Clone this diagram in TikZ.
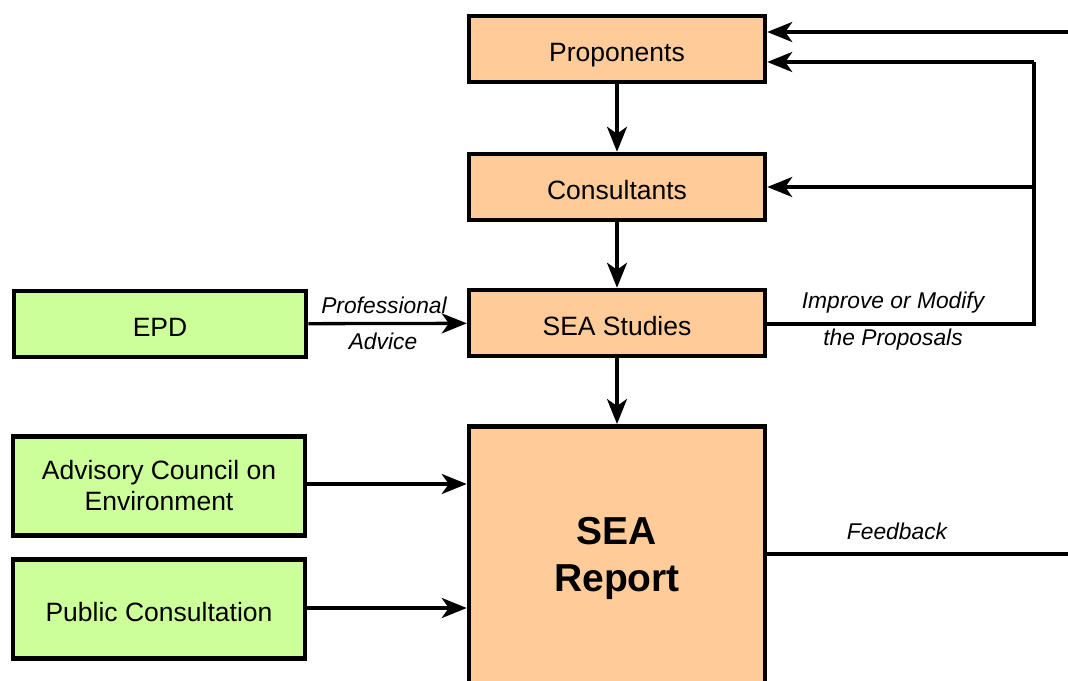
\documentclass[tikz,border=0pt]{standalone}
\usepackage{fontspec}
\setmainfont{Liberation Sans}
\usetikzlibrary{arrows.meta}
\definecolor{peach}{RGB}{255,204,153}
\definecolor{lime}{RGB}{204,255,153}
\begin{document}
\begin{tikzpicture}[x=1pt,y=-1pt,
  box/.style={draw=black, line width=4.5pt, inner sep=0pt, align=center,
    font=\fontsize{26.5}{31}\selectfont},
  oneline/.style={text height=29pt, text depth=5pt},
  actor/.style={box, oneline, fill=peach, minimum width=296pt, minimum height=66pt},
  party/.style={box, fill=lime, minimum width=292pt},
  flow/.style={line width=3.3pt, -{Stealth[length=25pt,width=20pt,inset=7pt]}},
  plain/.style={line width=3.3pt},
  tag/.style={font=\fontsize{22.8}{26}\selectfont\itshape, inner sep=0pt}]
\useasboundingbox (0,0) rectangle (1068,680);
\clip (0,0) rectangle (1068,680);
\fill[white] (0,0) rectangle (1068,680);

% main chain
\node[actor] (prop) at (617,49) {Proponents};
\node[actor] (cons) at (617,187) {Consultants};
\node[actor] (sea)  at (617,323) {SEA Studies};
\node[box, fill=peach, minimum width=296pt, minimum height=264pt, anchor=north,
      font=\fontsize{39}{47}\selectfont\bfseries] (rep) at (617,424) {SEA\\Report};

% contributing parties
\node[party, oneline, minimum height=66pt] (epd) at (160,324) {EPD};
\node[party, minimum height=99pt] (ace) at (159,486) {Advisory Council on\\Environment};
\node[party, oneline, minimum height=99pt] (pub) at (159,609) {Public Consultation};

% connectors
\draw[flow] (prop) -- (cons);
\draw[flow] (cons) -- (sea);
\draw[flow] (sea) -- (rep);
\draw[flow] (epd) -- (sea);
\draw[flow] ([yshift=2pt]ace.east) -- ([yshift=2pt]ace.east -| rep.west);
\draw[flow] ([yshift=1pt]pub.east) -- ([yshift=1pt]pub.east -| rep.west);

% improvement loop back to proponents and consultants
\coordinate (loop) at (1034,62);
\draw[plain] ([yshift=-1pt]sea.east) -| (loop);
\draw[flow] (loop) -- (loop -| prop.east);
\draw[flow] (loop |- cons.east) -- (cons.east);

% feedback returning from the report
\coordinate (fbout) at (1068,554);
\coordinate (fbin) at (1068,32);
\draw[plain] (rep.east |- fbout) -- (fbout);
\draw[flow] (fbin) -- (fbin -| prop.east);

% connector labels
\node[tag] (pa1) at (384,305) {Professional};
\node[tag] (pa2) at (383,341) {Advice};
\node[tag] (im1) at (893,303) {Improve or Modify};
\node[tag] (im2) at (893,340) {the Proposals};
\node[tag] (fb)  at (897,531) {Feedback};
\end{tikzpicture}
\end{document}
